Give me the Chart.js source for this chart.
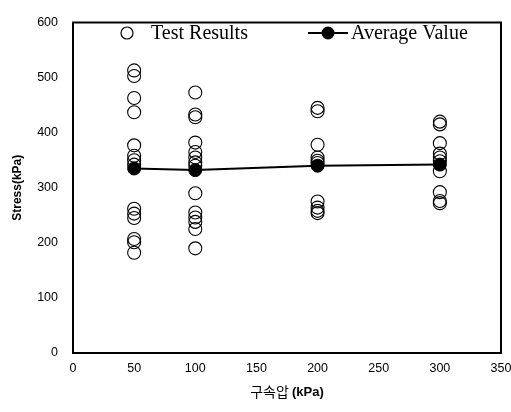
<!DOCTYPE html>
<html>
<head>
<meta charset="utf-8">
<script src="https://cdn.jsdelivr.net/npm/chart.js@4.4.1/dist/chart.umd.min.js"></script>
<style>
  html, body { margin: 0; padding: 0; background: #fff; }
</style>
</head>
<body>
<canvas id="stressChart" width="511" height="412"></canvas>
<script>
// confining pressure (kPa) and measured stress at each level
const pressures = [50, 100, 200, 300];
const test50 = [513, 503, 463, 437, 377, 358, 350, 342, 262, 253, 245, 207, 201, 182];
const test100 = [473, 433, 428, 382, 365, 355, 346, 340, 290, 255, 246, 238, 225, 190];
const test200 = [445, 439, 378, 355, 349, 345, 275, 264, 258, 254];
const test300 = [420, 415, 381, 362, 355, 348, 330, 292, 276, 272];
const averages = [335, 332, 340, 342];
const xTicks = [0, 50, 100, 150, 200, 250, 300, 350];
const yTicks = [0, 100, 200, 300, 400, 500, 600];

const testSets = [test50, test100, test200, test300];
const testPoints = [];
testSets.forEach((vals, i) => {
  vals.forEach(v => testPoints.push({ x: pressures[i], y: v }));
});
const avgPoints = pressures.map((p, i) => ({ x: p, y: averages[i] }));

// frame, legend and x title (mixed weights)
const decor = {
  id: 'decor',
  afterDraw(chart) {
    const ctx = chart.ctx;
    const a = chart.chartArea;
    ctx.save();
    ctx.strokeStyle = '#000';
    ctx.lineWidth = 2;
    ctx.strokeRect(a.left, a.top, a.right - a.left, a.bottom - a.top);

    // legend
    ctx.lineWidth = 1.2;
    ctx.beginPath();
    ctx.arc(127, 33, 6, 0, Math.PI * 2);
    ctx.stroke();
    ctx.fillStyle = '#000';
    ctx.font = '20px "Liberation Serif"';
    ctx.textBaseline = 'middle';
    ctx.textAlign = 'left';
    ctx.fillText('Test Results', 151, 34);

    ctx.lineWidth = 2;
    ctx.beginPath();
    ctx.moveTo(308, 33);
    ctx.lineTo(348, 33);
    ctx.stroke();
    ctx.beginPath();
    ctx.arc(328, 33, 6.5, 0, Math.PI * 2);
    ctx.fill();
    ctx.fillText('Average Value', 351, 34);

    // x axis title
    const korean = '구속압 ';
    const unit = '(kPa)';
    ctx.font = '14px "Noto Sans CJK KR"';
    const w1 = ctx.measureText(korean).width;
    ctx.font = 'bold 13px "Liberation Sans"';
    const w2 = ctx.measureText(unit).width;
    let x0 = 287 - (w1 + w2) / 2;
    ctx.font = '14px "Noto Sans CJK KR"';
    ctx.fillText(korean, x0, 392);
    ctx.font = 'bold 13px "Liberation Sans"';
    ctx.fillText(unit, x0 + w1, 392);
    ctx.restore();
  }
};

new Chart(document.getElementById('stressChart'), {
  type: 'scatter',
  data: {
    datasets: [
      {
        label: 'Average Value',
        data: avgPoints,
        showLine: true,
        borderColor: '#000',
        borderWidth: 2,
        backgroundColor: '#000',
        pointRadius: 6.5,
        pointBorderWidth: 1,
        pointBorderColor: '#000',
        pointBackgroundColor: '#000'
      },
      {
        label: 'Test Results',
        data: testPoints,
        showLine: false,
        pointRadius: 6.5,
        pointBorderWidth: 1.1,
        pointBorderColor: '#000',
        pointBackgroundColor: 'rgba(255,255,255,0)'
      }
    ]
  },
  options: {
    responsive: false,
    animation: false,
    devicePixelRatio: 1,
    layout: { padding: { top: 13, right: 10, left: 0, bottom: 0 } },
    plugins: { legend: { display: false }, tooltip: { enabled: false } },
    scales: {
      x: {
        type: 'linear',
        min: 0,
        max: 350,
        afterBuildTicks: s => { s.ticks = xTicks.map(v => ({ value: v })); },
        afterFit: s => { s.height = 59; s.paddingRight = 0; s.paddingLeft = 0; },
        grid: { display: false, drawTicks: false },
        border: { display: false },
        ticks: { color: '#000', padding: 8, font: { family: 'Liberation Sans', size: 12.5 } }
      },
      y: {
        min: 0,
        max: 600,
        afterBuildTicks: s => { s.ticks = yTicks.map(v => ({ value: v })); },
        afterFit: s => { s.width = 73; },
        grid: { display: false, drawTicks: false },
        border: { display: false },
        ticks: { color: '#000', padding: 15, font: { family: 'Liberation Sans', size: 12.5 } },
        title: {
          display: true,
          text: 'Stress(kPa)',
          color: '#000',
          padding: { top: 10, bottom: 0 },
          font: { family: 'Liberation Sans', size: 12, weight: 'bold' }
        }
      }
    }
  },
  plugins: [decor]
});
</script>
</body>
</html>
